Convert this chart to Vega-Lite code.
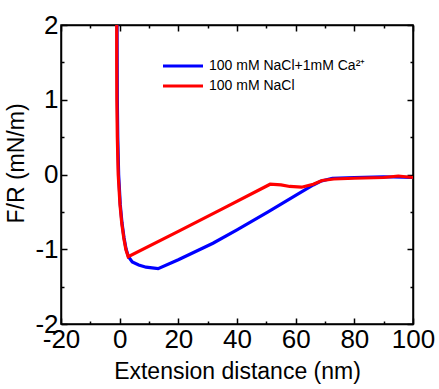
{
  "$schema": "https://vega.github.io/schema/vega-lite/v6.json",
  "width": 352,
  "height": 299,
  "autosize": {"type": "none"},
  "padding": {"left": 61, "top": 25, "right": 26, "bottom": 65},
  "background": "white",
  "config": {
    "view": {"stroke": "black", "strokeWidth": 1.5},
    "font": "Liberation Sans",
    "axis": {
      "domainColor": "black",
      "domainWidth": 1.5,
      "ticks": true,
      "tickColor": "black",
      "tickWidth": 1.5,
      "tickOpacity": 1,
      "grid": false,
      "labelColor": "black",
      "titleColor": "black",
      "labelFont": "Liberation Sans",
      "titleFont": "Liberation Sans",
      "titleFontWeight": "normal"
    }
  },
  "data": {
    "values": [
      {"s": "100 mM NaCl+1mM Ca²⁺", "x": -0.9, "y": 2.0},
      {"s": "100 mM NaCl+1mM Ca²⁺", "x": -0.85, "y": 1.5},
      {"s": "100 mM NaCl+1mM Ca²⁺", "x": -0.8, "y": 1.0},
      {"s": "100 mM NaCl+1mM Ca²⁺", "x": -0.65, "y": 0.5},
      {"s": "100 mM NaCl+1mM Ca²⁺", "x": -0.35, "y": 0.0},
      {"s": "100 mM NaCl+1mM Ca²⁺", "x": 0.2, "y": -0.4},
      {"s": "100 mM NaCl+1mM Ca²⁺", "x": 0.8, "y": -0.65},
      {"s": "100 mM NaCl+1mM Ca²⁺", "x": 1.5, "y": -0.85},
      {"s": "100 mM NaCl+1mM Ca²⁺", "x": 2.2, "y": -1.0},
      {"s": "100 mM NaCl+1mM Ca²⁺", "x": 3.0, "y": -1.1},
      {"s": "100 mM NaCl+1mM Ca²⁺", "x": 4.3, "y": -1.17},
      {"s": "100 mM NaCl+1mM Ca²⁺", "x": 6.5, "y": -1.21},
      {"s": "100 mM NaCl+1mM Ca²⁺", "x": 9.0, "y": -1.24},
      {"s": "100 mM NaCl+1mM Ca²⁺", "x": 13.1, "y": -1.26},
      {"s": "100 mM NaCl+1mM Ca²⁺", "x": 20.0, "y": -1.14},
      {"s": "100 mM NaCl+1mM Ca²⁺", "x": 31.8, "y": -0.92},
      {"s": "100 mM NaCl+1mM Ca²⁺", "x": 40.0, "y": -0.74},
      {"s": "100 mM NaCl+1mM Ca²⁺", "x": 50.6, "y": -0.5},
      {"s": "100 mM NaCl+1mM Ca²⁺", "x": 60.0, "y": -0.28},
      {"s": "100 mM NaCl+1mM Ca²⁺", "x": 66.0, "y": -0.14},
      {"s": "100 mM NaCl+1mM Ca²⁺", "x": 68.5, "y": -0.09},
      {"s": "100 mM NaCl+1mM Ca²⁺", "x": 72.5, "y": -0.05},
      {"s": "100 mM NaCl+1mM Ca²⁺", "x": 80.0, "y": -0.04},
      {"s": "100 mM NaCl+1mM Ca²⁺", "x": 90.0, "y": -0.03},
      {"s": "100 mM NaCl+1mM Ca²⁺", "x": 100.0, "y": -0.04},
      {"s": "100 mM NaCl", "x": -1.0, "y": 2.0},
      {"s": "100 mM NaCl", "x": -1.0, "y": 1.5},
      {"s": "100 mM NaCl", "x": -0.95, "y": 1.0},
      {"s": "100 mM NaCl", "x": -0.8, "y": 0.5},
      {"s": "100 mM NaCl", "x": -0.5, "y": 0.0},
      {"s": "100 mM NaCl", "x": 0.1, "y": -0.4},
      {"s": "100 mM NaCl", "x": 0.7, "y": -0.65},
      {"s": "100 mM NaCl", "x": 1.4, "y": -0.85},
      {"s": "100 mM NaCl", "x": 2.1, "y": -1.0},
      {"s": "100 mM NaCl", "x": 2.9, "y": -1.1},
      {"s": "100 mM NaCl", "x": 20.0, "y": -0.76},
      {"s": "100 mM NaCl", "x": 35.0, "y": -0.46},
      {"s": "100 mM NaCl", "x": 51.3, "y": -0.13},
      {"s": "100 mM NaCl", "x": 55.0, "y": -0.14},
      {"s": "100 mM NaCl", "x": 58.0, "y": -0.16},
      {"s": "100 mM NaCl", "x": 62.0, "y": -0.17},
      {"s": "100 mM NaCl", "x": 66.0, "y": -0.13},
      {"s": "100 mM NaCl", "x": 69.0, "y": -0.08},
      {"s": "100 mM NaCl", "x": 73.0, "y": -0.06},
      {"s": "100 mM NaCl", "x": 80.0, "y": -0.05},
      {"s": "100 mM NaCl", "x": 90.0, "y": -0.04},
      {"s": "100 mM NaCl", "x": 95.0, "y": -0.02},
      {"s": "100 mM NaCl", "x": 100.0, "y": -0.04}
    ]
  },
  "layer": [
    {
      "mark": {"type": "line", "strokeWidth": 3.2, "clip": true},
      "encoding": {
        "x": {
          "field": "x", "type": "quantitative",
          "scale": {"domain": [-20, 100], "nice": false, "zero": false},
          "axis": {
            "orient": "bottom",
            "values": [-20, -10, 0, 10, 20, 30, 40, 50, 60, 70, 80, 90, 100],
            "labelExpr": "datum.value % 20 === 0 ? '' + datum.value : ''",
            "tickSize": {"condition": {"test": "datum.value % 20 === 0", "value": -6}, "value": -3},
            "labelFontSize": 26,
            "labelPadding": 8,
            "labelFlush": false,
            "title": "Extension distance (nm)",
            "titleFontSize": 23,
            "titlePadding": 8
          }
        },
        "y": {
          "field": "y", "type": "quantitative",
          "scale": {"domain": [-2, 2], "nice": false, "zero": false},
          "axis": {
            "orient": "left",
            "values": [-2, -1.5, -1, -0.5, 0, 0.5, 1, 1.5, 2],
            "labelExpr": "datum.value % 1 === 0 ? '' + datum.value : ''",
            "tickSize": {"condition": {"test": "datum.value % 1 === 0", "value": -6}, "value": -3},
            "labelFontSize": 26,
            "labelPadding": 9,
            "labelFlush": false,
            "title": "F/R (mN/m)",
            "titleFontSize": 23,
            "titleX": -45,
            "titleY": 138,
            "titleBaseline": "middle",
            "titleAngle": -90
          }
        },
        "color": {
          "field": "s", "type": "nominal",
          "scale": {"domain": ["100 mM NaCl+1mM Ca²⁺", "100 mM NaCl"], "range": ["#0000ff", "#ff0000"]},
          "legend": {
            "title": null,
            "orient": "none",
            "legendX": 115,
            "legendY": 34,
            "symbolType": "M-4,0H4",
            "symbolSize": 100,
            "symbolStrokeWidth": 3,
            "labelFontSize": 14,
            "labelColor": "black",
            "labelOffset": 19,
            "rowPadding": 6
          }
        },
        "order": {"field": "x", "type": "quantitative"}
      }
    },
    {
      "mark": {"type": "point", "opacity": 0},
      "encoding": {
        "x": {
          "field": "x", "type": "quantitative",
          "scale": {"domain": [-20, 100], "nice": false, "zero": false},
          "axis": {
            "orient": "top",
            "values": [-20, -10, 0, 10, 20, 30, 40, 50, 60, 70, 80, 90, 100],
            "labels": false,
            "tickSize": {"condition": {"test": "datum.value % 20 === 0", "value": -6}, "value": -3},
            "title": null
          }
        },
        "y": {
          "field": "y", "type": "quantitative",
          "scale": {"domain": [-2, 2], "nice": false, "zero": false},
          "axis": {
            "orient": "right",
            "values": [-2, -1.5, -1, -0.5, 0, 0.5, 1, 1.5, 2],
            "labels": false,
            "tickSize": {"condition": {"test": "datum.value % 1 === 0", "value": -6}, "value": -3},
            "title": null
          }
        }
      }
    }
  ],
  "resolve": {"axis": {"x": "independent", "y": "independent"}}
}
